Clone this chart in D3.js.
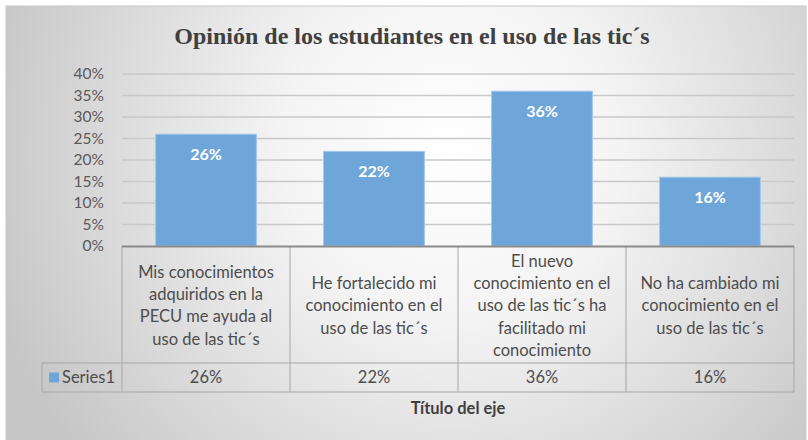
<!DOCTYPE html>
<html>
<head>
<meta charset="utf-8">
<script src="https://cdn.jsdelivr.net/npm/d3@7"></script>
<style>
body { margin: 0; background: #fff; }
</style>
</head>
<body>
<div id="chart-area"></div>
<script>
// data
var categories = [
	["Mis conocimientos", "adquiridos en la", "PECU me ayuda al", "uso de las tic´s"],
	["He fortalecido mi", "conocimiento en el", "uso de las tic´s"],
	["El nuevo", "conocimiento en el", "uso de las tic´s ha", "facilitado mi", "conocimiento"],
	["No ha cambiado mi", "conocimiento en el", "uso de las tic´s"]
];
var values = [0.26, 0.22, 0.36, 0.16];
var ticks = [0, 0.05, 0.10, 0.15, 0.20, 0.25, 0.30, 0.35, 0.40];
var seriesName = "Series1";
var title = "Opinión de los estudiantes en el uso de las tic´s";
var axisTitle = "Título del eje";

var width = 808, height = 440;
var margin = {top: 74, left: 122, right: 14, bottom: 194};
var plotW = width - margin.left - margin.right;
var plotH = height - margin.top - margin.bottom;

var svg = d3.select("#chart-area").append("svg")
	.attr("width", width)
	.attr("height", height);

// background gradient
var defs = svg.append("defs");
var grad = defs.append("radialGradient")
	.attr("id", "bg")
	.attr("gradientUnits", "userSpaceOnUse")
	.attr("cx", 450).attr("cy", 150).attr("r", 480);
grad.append("stop").attr("offset", "0%").attr("stop-color", "#ffffff");
grad.append("stop").attr("offset", "35%").attr("stop-color", "#f4f4f4");
grad.append("stop").attr("offset", "100%").attr("stop-color", "#c6c6c6");

svg.append("rect")
	.attr("x", 6).attr("y", 6)
	.attr("width", 800).attr("height", 440)
	.attr("fill", "url(#bg)")
	.attr("stroke", "#c8c8c8");

svg.append("text")
	.attr("x", 412)
	.attr("y", 44)
	.attr("text-anchor", "middle")
	.attr("font-family", "Liberation Serif, Times New Roman, serif")
	.attr("font-weight", "bold")
	.attr("font-size", "24px")
	.style("fill", "#404040")
	.text(title);

var g = svg.append("g")
	.attr("transform", "translate(" + margin.left + ", " + margin.top + ")");

var x = d3.scaleBand()
	.domain(d3.range(categories.length))
	.range([0, plotW])
	.paddingInner(0.4)
	.paddingOuter(0.2);

var y = d3.scaleLinear()
	.domain([0, 0.40])
	.range([plotH, 0]);

// gridlines
g.append("g")
	.selectAll("line")
	.data(ticks.slice(1))
	.enter()
	.append("line")
		.attr("x1", 0).attr("x2", plotW)
		.attr("y1", (d)=> y(d)).attr("y2", (d)=> y(d))
		.attr("stroke", "#c9c9c9")
		.attr("stroke-width", 1.3);

// left axis (labels only)
var leftAxis = d3.axisLeft(y).tickValues(ticks)
	.tickFormat(d3.format(".0%"))
	.tickSize(0)
	.tickPadding(18);
var ax = g.append("g").attr("class", "left axis").call(leftAxis);
ax.select(".domain").remove();
ax.selectAll("text")
	.attr("font-family", "Lato, Calibri, sans-serif")
	.attr("font-size", "15.5px")
	.style("fill", "#595959");

// bars
g.selectAll("rect.bar")
	.data(values)
	.enter()
	.append("rect")
		.attr("class", "bar")
		.attr("x", (d, i)=> x(i))
		.attr("y", (d)=> y(d))
		.attr("width", x.bandwidth())
		.attr("height", (d)=> plotH - y(d))
		.attr("fill", "#6fa6d9")
		.attr("stroke", "#a3c6ea")
		.attr("stroke-width", 1);

g.selectAll("text.lbl")
	.data(values)
	.enter()
	.append("text")
		.attr("class", "lbl")
		.attr("x", (d, i)=> x(i) + x.bandwidth() / 2)
		.attr("y", (d)=> y(d) + 26)
		.attr("text-anchor", "middle")
		.attr("font-family", "Lato, Calibri, sans-serif")
		.attr("font-weight", "bold")
		.attr("font-size", "16px")
		.style("fill", "#ffffff")
		.text((d)=> d3.format(".0%")(d));

// data table
var step = x.step();
var rowTop = plotH, rowMid = plotH + 117, rowBot = plotH + 146;
var legendLeft = 42 - margin.left;
var t = g.append("g").attr("class", "table");

t.selectAll("line.v")
	.data(d3.range(categories.length + 1))
	.enter()
	.append("line")
		.attr("x1", (d)=> d * step).attr("x2", (d)=> d * step)
		.attr("y1", rowTop).attr("y2", rowBot)
		.attr("stroke", "#a6a6a6");
t.append("line")
	.attr("x1", legendLeft).attr("x2", legendLeft)
	.attr("y1", rowMid).attr("y2", rowBot)
	.attr("stroke", "#a6a6a6");
t.append("line")
	.attr("x1", legendLeft).attr("x2", plotW)
	.attr("y1", rowMid).attr("y2", rowMid)
	.attr("stroke", "#a6a6a6");
t.append("line")
	.attr("x1", legendLeft).attr("x2", plotW)
	.attr("y1", rowBot).attr("y2", rowBot)
	.attr("stroke", "#a6a6a6");
t.append("line")
	.attr("x1", 0).attr("x2", plotW)
	.attr("y1", rowTop + 0.5).attr("y2", rowTop + 0.5)
	.attr("stroke", "#8a8a8a")
	.attr("stroke-width", 2);

var lineH = 22.3;
categories.forEach((lines, i)=> {
	var cy = (rowTop + rowMid) / 2 + 1;
	var y0 = cy - (lines.length - 1) * lineH / 2;
	var txt = t.append("text")
		.attr("text-anchor", "middle")
		.attr("font-family", "Lato, Calibri, sans-serif")
		.attr("font-size", "16.5px")
		.style("fill", "#4d4d4d");
	lines.forEach((s, j)=> {
		txt.append("tspan")
			.attr("x", i * step + step / 2)
			.attr("y", y0 + j * lineH)
			.attr("dy", "0.35em")
			.text(s);
	});
});

t.selectAll("text.val")
	.data(values)
	.enter()
	.append("text")
		.attr("class", "val")
		.attr("x", (d, i)=> i * step + step / 2)
		.attr("y", (rowMid + rowBot) / 2)
		.attr("dy", "0.35em")
		.attr("text-anchor", "middle")
		.attr("font-family", "Lato, Calibri, sans-serif")
		.attr("font-size", "16.5px")
		.style("fill", "#4d4d4d")
		.text((d)=> d3.format(".0%")(d));

t.append("rect")
	.attr("x", 49 - margin.left).attr("y", (rowMid + rowBot) / 2 - 5)
	.attr("width", 10).attr("height", 10)
	.attr("fill", "#6fa6d9");
t.append("text")
	.attr("x", 62 - margin.left)
	.attr("y", (rowMid + rowBot) / 2)
	.attr("dy", "0.35em")
	.attr("font-family", "Lato, Calibri, sans-serif")
	.attr("font-size", "16.5px")
	.style("fill", "#4d4d4d")
	.text(seriesName);

// axis title
g.append("text")
	.attr("x", plotW / 2)
	.attr("y", rowBot + 16)
	.attr("dy", "0.35em")
	.attr("text-anchor", "middle")
	.attr("font-family", "Lato, Calibri, sans-serif")
	.attr("font-weight", "bold")
	.attr("font-size", "16.5px")
	.style("fill", "#404040")
	.text(axisTitle);
</script>
</body>
</html>
